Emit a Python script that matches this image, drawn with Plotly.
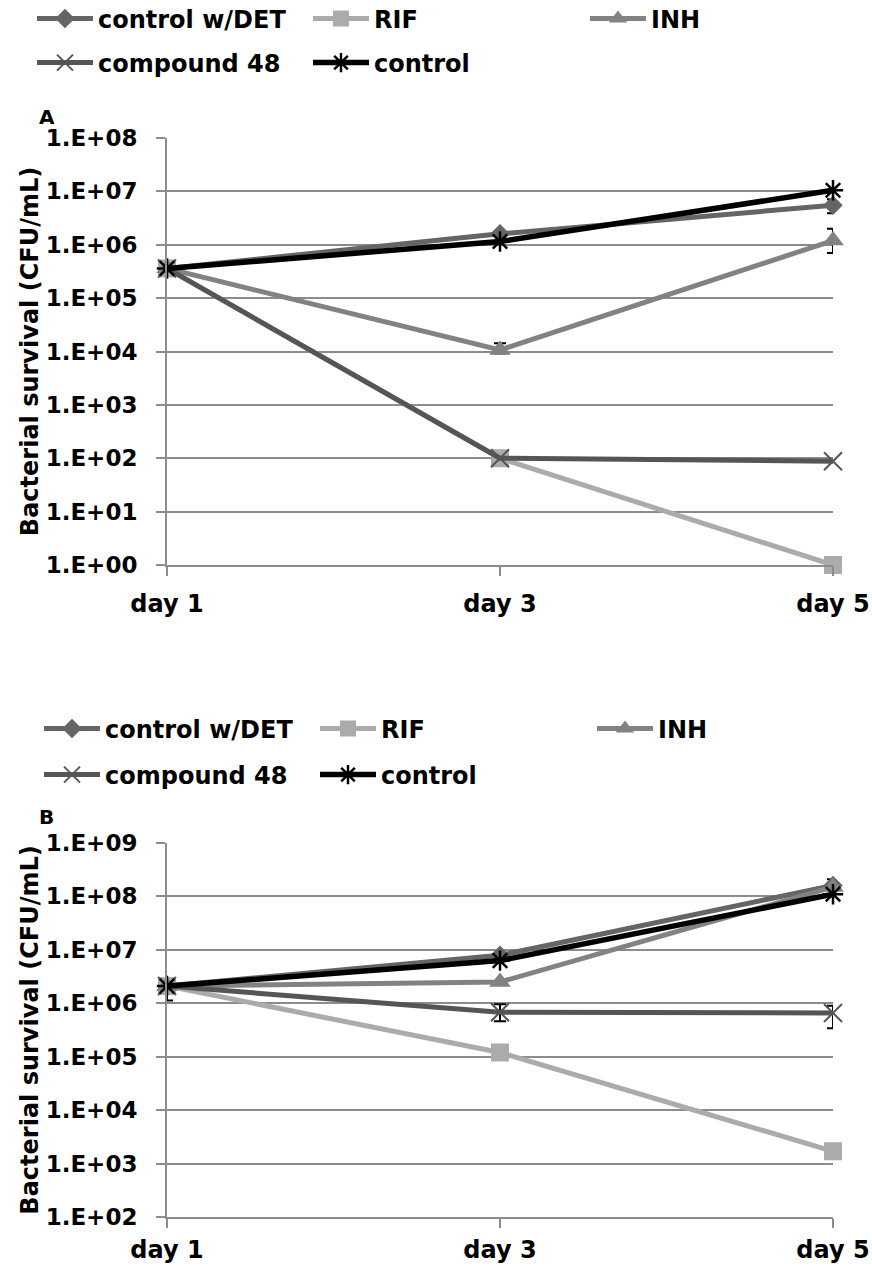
import plotly.graph_objects as go

W, H = 872, 1271

days = ["day 1", "day 3", "day 5"]
series_names = ["control w/DET", "RIF", "INH", "compound 48", "control"]

# Panel A: bacterial survival (CFU/mL)
a_control_det = [3.6e5, 1.6e6, 5.5e6]
a_rif = [3.6e5, 1.0e2, 1.0e0]
a_inh = [3.6e5, 1.07e4, 1.2e6]
a_cmpd48 = [3.6e5, 1.0e2, 8.8e1]
a_control = [3.6e5, 1.15e6, 1.05e7]

a_control_det_err = [0, 0, 1.6e6]
a_inh_err_plus = [0, 3.5e3, 0.8e6]
a_inh_err_minus = [0, 1.5e3, 0.5e6]

# Panel B: bacterial survival (CFU/mL)
b_control_det = [2.1e6, 7.9e6, 1.6e8]
b_rif = [2.1e6, 1.2e5, 1.7e3]
b_inh = [2.1e6, 2.5e6, 1.5e8]
b_cmpd48 = [2.1e6, 6.8e5, 6.6e5]
b_control = [2.1e6, 6.3e6, 1.1e8]

b_control_det_err = [0, 0, 0.5e8]
b_cmpd48_err_plus = [0.2e6, 2.8e5, 2.4e5]
b_cmpd48_err_minus = [0.97e6, 2.2e5, 3.2e5]

a_tickvals = [1e0, 1e1, 1e2, 1e3, 1e4, 1e5, 1e6, 1e7, 1e8]
a_ticktext = ["1.E+00", "1.E+01", "1.E+02", "1.E+03", "1.E+04",
              "1.E+05", "1.E+06", "1.E+07", "1.E+08"]
b_tickvals = [1e2, 1e3, 1e4, 1e5, 1e6, 1e7, 1e8, 1e9]
b_ticktext = ["1.E+02", "1.E+03", "1.E+04", "1.E+05",
              "1.E+06", "1.E+07", "1.E+08", "1.E+09"]

y_title = "Bacterial survival (CFU/mL)"

colors = ["#656565", "#ababab", "#828282", "#555555", "#000000"]
symbols = ["diamond", "square", "triangle-up", "x-thin-open", "asterisk-open"]
sizes = [15, 18, 19, 18, 17]
widths = [5, 5, 5, 5, 5.5]

FONT = "DejaVu Sans"
GRID = "#8c8c8c"

fig = go.Figure()


def px_x(v):
    return v / W


def px_y(v):
    return 1 - v / H


panels = [
    dict(xa="x", ya="y",
         vals=[a_control_det, a_rif, a_inh, a_cmpd48, a_control],
         errs={0: (a_control_det_err, a_control_det_err),
               2: (a_inh_err_plus, a_inh_err_minus)},
         legend_ids=["legend", "legend2", "legend3", "legend4", "legend5"]),
    dict(xa="x2", ya="y2",
         vals=[b_control_det, b_rif, b_inh, b_cmpd48, b_control],
         errs={0: (b_control_det_err, b_control_det_err),
               3: (b_cmpd48_err_plus, b_cmpd48_err_minus)},
         legend_ids=["legend6", "legend7", "legend8", "legend9", "legend10"]),
]

for p in panels:
    for i, name in enumerate(series_names):
        err = None
        if i in p["errs"]:
            plus, minus = p["errs"][i]
            err = dict(type="data", symmetric=False, array=plus, arrayminus=minus,
                       color="#000000", thickness=2, width=6)
        marker = dict(symbol=symbols[i], size=sizes[i], color=colors[i])
        if symbols[i].endswith("open"):
            marker["line"] = dict(color=colors[i], width=2.5 if i == 4 else 2)
        fig.add_trace(go.Scatter(
            x=days, y=p["vals"][i], name=name, mode="lines+markers",
            xaxis=p["xa"], yaxis=p["ya"],
            line=dict(color=colors[i], width=widths[i]),
            marker=marker, error_y=err, cliponaxis=False,
            legend=p["legend_ids"][i],
        ))

# legend entry positions (left px, centre px)
legend_pos_a = [(32, 19), (308, 19), (585, 19), (32, 63), (308, 63)]
legend_pos_b = [(39, 729), (315, 729), (592, 729), (39, 775), (315, 775)]

legend_font = dict(family=FONT, size=24, color="#000000", weight="bold")
layout_legends = {}
for ids, pos in ((panels[0]["legend_ids"], legend_pos_a), (panels[1]["legend_ids"], legend_pos_b)):
    for lid, (lx, ly) in zip(ids, pos):
        layout_legends[lid] = dict(
            x=px_x(lx), y=px_y(ly), xanchor="left", yanchor="middle",
            xref="paper", yref="paper",
            bgcolor="rgba(0,0,0,0)", borderwidth=0, font=legend_font,
            itemwidth=56,
        )

tick_font = dict(family=FONT, size=23, color="#000000", weight="bold")
cat_font = dict(family=FONT, size=24, color="#000000", weight="bold")

x_dom = [px_x(167), px_x(833)]


def xaxis_cfg(anchor, standoff):
    return dict(
        type="category", range=[0, 2], domain=x_dom, anchor=anchor,
        showgrid=False, showline=True, linecolor=GRID, linewidth=2,
        ticks="outside", ticklen=9, tickwidth=2, tickcolor=GRID,
        tickfont=cat_font, ticklabelstandoff=standoff, zeroline=False,
        automargin=False,
    )


def yaxis_cfg(anchor, rng, dom, tv, tt):
    return dict(
        type="log", range=rng, domain=dom, anchor=anchor,
        tickvals=tv, ticktext=tt,
        showgrid=True, gridcolor=GRID, gridwidth=2,
        showline=True, linecolor=GRID, linewidth=2,
        ticks="outside", ticklen=9, tickwidth=2, tickcolor=GRID,
        tickfont=tick_font, ticklabelstandoff=14,
        title=dict(text=y_title, font=dict(family=FONT, size=24, color="#000000", weight="bold"),
                   standoff=0),
        zeroline=False, automargin=False,
    )


fig.update_layout(
    width=W, height=H,
    margin=dict(l=0, r=0, t=0, b=0, autoexpand=False),
    paper_bgcolor="white", plot_bgcolor="white",
    showlegend=True,
    xaxis=xaxis_cfg("y", 7),
    yaxis=yaxis_cfg("x", [0, 8], [px_y(565), px_y(138)], a_tickvals, a_ticktext),
    xaxis2=xaxis_cfg("y2", 1),
    yaxis2=yaxis_cfg("x2", [2, 9], [px_y(1217), px_y(843)], b_tickvals, b_ticktext),
    annotations=[
        dict(text="A", x=px_x(37), y=px_y(117), xref="paper", yref="paper",
             xanchor="left", yanchor="middle", showarrow=False,
             font=dict(family=FONT, size=20, color="#000000", weight="bold")),
        dict(text="B", x=px_x(37), y=px_y(817), xref="paper", yref="paper",
             xanchor="left", yanchor="middle", showarrow=False,
             font=dict(family=FONT, size=20, color="#000000", weight="bold")),
    ],
    **layout_legends,
)

fig.write_html("out.html")
